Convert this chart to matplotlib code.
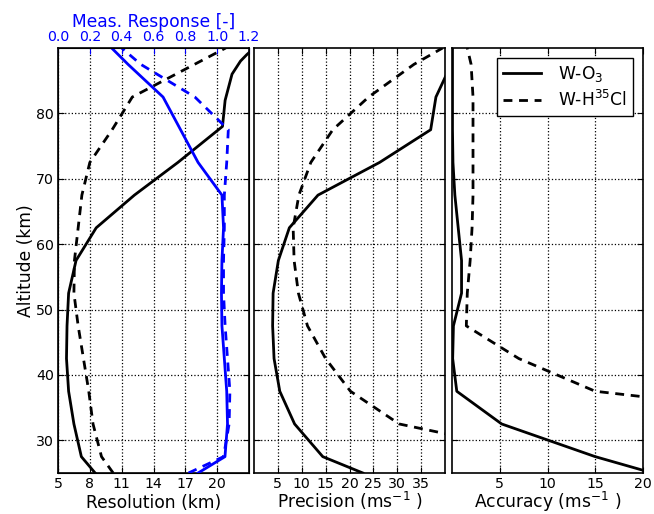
import matplotlib
matplotlib.use("Agg")
import matplotlib.pyplot as plt
import numpy as np

plt.rcParams['font.family'] = ['DejaVu Sans']
plt.rcParams['mathtext.fontset'] = 'dejavusans'

# common altitude grid (km)
alt = [25, 27.5, 32.5, 37.5, 42.5, 47.5, 52.5, 57.5, 62.5, 67.5, 72.5, 77.5, 82.5, 87.5, 90]

# Resolution (km)
alt_res_o3 = [25, 27.5, 32.5, 37.5, 42.5, 47.5, 52.5, 57.5, 62.5, 67.5, 72.5, 78, 82, 86, 88, 89, 90]
res_o3 = [8.5, 7.2, 6.5, 6.0, 5.8, 5.85, 6.0, 6.7, 8.6, 12.2, 16.3, 20.5, 20.75, 21.4, 22.2, 22.8, 23.5]
alt_res_hcl = [25, 27.5, 32.5, 37.5, 42.5, 47.5, 52.5, 57.5, 62.5, 67.5, 72.5, 77.5, 82.5, 90]
res_hcl = [10.2, 9.1, 8.3, 7.9, 7.4, 6.9, 6.5, 6.55, 6.9, 7.25, 8.0, 10.1, 12.0, 20.8]

# Measurement response (-)
mr_o3 = [0.88, 1.049, 1.065, 1.06, 1.045, 1.03, 1.027, 1.03, 1.04, 1.03, 0.88, 0.77, 0.66, 0.44, 0.337]
mr_hcl = [0.82, 1.04, 1.075, 1.08, 1.065, 1.05, 1.04, 1.04, 1.045, 1.045, 1.06, 1.07, 0.86, 0.52, 0.40]

# Precision (m/s)
prec_o3 = [22.8, 14.4, 8.5, 5.4, 4.2, 3.9, 4.0, 5.1, 7.4, 13.4, 26.3, 37.0, 38.1, 41.3, 43.0]
prec_hcl = [80, 63, 30.4, 20.2, 15.0, 11.2, 9.3, 8.4, 8.2, 9.4, 11.9, 16.5, 24.0, 33.5, 39.5]

# Accuracy (m/s)
acc_o3 = [21, 15, 5.2, 0.5, 0.07, 0.15, 1.0, 1.0, 0.65, 0.3, 0.1, 0.05, 0.05, 0.05, 0.05]
acc_hcl = [80, 60, 45, 15, 7.0, 1.5, 1.6, 1.9, 2.1, 2.2, 2.2, 2.2, 2.2, 2.0, 1.6]

labels = ['W-O$_3$', 'W-H$^{35}$Cl']
res_ticks = [5, 8, 11, 14, 17, 20]
mr_ticks = [0.0, 0.2, 0.4, 0.6, 0.8, 1.0, 1.2]
prec_ticks = [5, 10, 15, 20, 25, 30, 35]
acc_ticks = [5, 10, 15, 20]
alt_ticks = [30, 40, 50, 60, 70, 80]

LW = 2.0
DASH = (3.2, 2.4)
TS = 10.2
LS = 12.3

fig = plt.figure(figsize=(6.54, 5.14), dpi=100)
W, H = 654.0, 514.0
bottom = 1 - 473 / H
height = 425 / H
width = 191 / W
ax1 = fig.add_axes([58 / W, bottom, width, height])
ax2 = fig.add_axes([254 / W, bottom, width, height])
ax3 = fig.add_axes([452 / W, bottom, width, height])

XLAB_Y = (514 - 508.5 - 41) / 425.0

def style(ax):
    ax.tick_params(direction='in', top=True, right=True, length=4, labelsize=TS, width=0.8, pad=3)
    ax.grid(True, linestyle=':', color='k', linewidth=0.9)
    for s in ax.spines.values():
        s.set_linewidth(1.2)
    ax.set_ylim(25, 90)
    ax.set_yticks(alt_ticks)

def xlabel(ax, text):
    ax.set_xlabel(text, fontsize=LS)
    ax.xaxis.label.set_va('baseline')
    ax.xaxis.set_label_coords(0.5, XLAB_Y)

# panel 1
ax1.plot(res_o3, alt_res_o3, color='k', lw=LW, label=labels[0])
ax1.plot(res_hcl, alt_res_hcl, color='k', lw=LW, dashes=DASH, label=labels[1])
ax1.set_xlim(5, 23)
ax1.set_xticks(res_ticks)
style(ax1)
xlabel(ax1, 'Resolution (km)')
ax1.set_ylabel('Altitude (km)', fontsize=LS, labelpad=1)
ax1.tick_params(top=False)

ax1t = ax1.twiny()
ax1t.plot(mr_o3, alt, color='b', lw=LW)
ax1t.plot(mr_hcl, alt, color='b', lw=LW, dashes=DASH)
ax1t.set_xlim(0, 1.2)
ax1t.set_xticks(mr_ticks)
ax1t.set_xticklabels(['%.1f' % t for t in mr_ticks])
ax1t.tick_params(axis='x', direction='in', colors='b', labelsize=TS, length=4, pad=3)
ax1t.set_xlabel('Meas. Response [-]', color='b', fontsize=LS, labelpad=2)
ax1t.set_ylim(25, 90)

# panel 2
ax2.plot(prec_o3, alt, color='k', lw=LW)
ax2.plot(prec_hcl, alt, color='k', lw=LW, dashes=DASH)
ax2.set_xlim(0, 40)
ax2.set_xticks(prec_ticks)
style(ax2)
ax2.set_yticklabels([])
xlabel(ax2, 'Precision (ms$^{-1}$ )')

# panel 3
l1, = ax3.plot(acc_o3, alt, color='k', lw=LW)
l2, = ax3.plot(acc_hcl, alt, color='k', lw=LW, dashes=DASH)
ax3.set_xlim(0, 20)
ax3.set_xticks(acc_ticks)
style(ax3)
ax3.set_yticklabels([])
xlabel(ax3, 'Accuracy (ms$^{-1}$ )')
leg = ax3.legend([l1, l2], labels, loc='upper right', fontsize=LS, fancybox=False,
                 edgecolor='k', framealpha=1, handlelength=2.2, borderaxespad=0.6,
                 labelspacing=0.35, handletextpad=1.0, borderpad=0.35)
leg.get_frame().set_linewidth(1.0)

fig.savefig('out.png', dpi=100)
